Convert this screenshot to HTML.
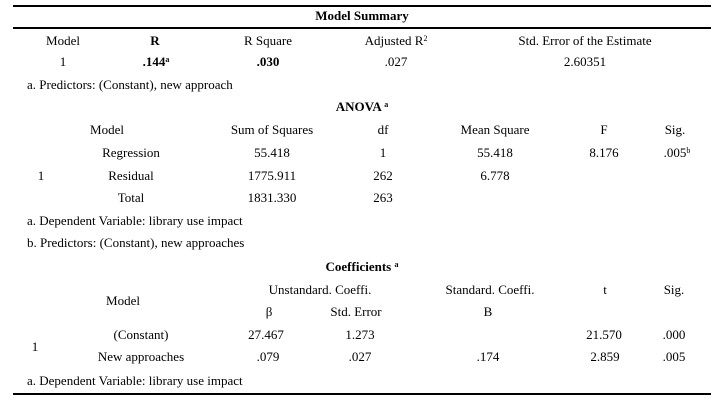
<!DOCTYPE html>
<html><head><meta charset="utf-8"><style>
html,body{margin:0;padding:0;background:#fff}
#t{position:relative;width:716px;height:400px;font-family:"Liberation Serif",serif;font-size:13px;color:#000;overflow:hidden}
.c{position:absolute;transform:translate(-50%,-50%);white-space:nowrap}
.l{position:absolute;transform:translateY(-50%);white-space:nowrap}
.b{font-weight:bold}
.hr{position:absolute;left:13px;width:698px;height:1.5px;background:#000}
sup{font-size:8px;vertical-align:4px;line-height:0}
</style></head><body>
<div id="t">
<div class="hr" style="top:5px"></div>
<div class="hr" style="top:27px"></div>
<div class="hr" style="top:393px"></div>

<div class="c b" style="left:362px;top:16px">Model Summary</div>
<div class="c" style="left:63px;top:41px">Model</div>
<div class="c b" style="left:155px;top:41px">R</div>
<div class="c" style="left:268px;top:41px">R Square</div>
<div class="c" style="left:396px;top:41px">Adjusted R<sup>2</sup></div>
<div class="c" style="left:585px;top:41px">Std. Error of the Estimate</div>
<div class="c" style="left:63px;top:62px">1</div>
<div class="c b" style="left:156px;top:62px">.144<sup>a</sup></div>
<div class="c b" style="left:268px;top:62px">.030</div>
<div class="c" style="left:396px;top:62px">.027</div>
<div class="c" style="left:585px;top:62px">2.60351</div>
<div class="l" style="left:27px;top:85px">a. Predictors: (Constant), new approach</div>

<div class="c b" style="left:362px;top:107px">ANOVA <sup>a</sup></div>
<div class="c" style="left:107px;top:130px">Model</div>
<div class="c" style="left:272px;top:130px">Sum of Squares</div>
<div class="c" style="left:383px;top:130px">df</div>
<div class="c" style="left:495px;top:130px">Mean Square</div>
<div class="c" style="left:604px;top:130px">F</div>
<div class="c" style="left:675px;top:130px">Sig.</div>
<div class="c" style="left:131px;top:153px">Regression</div>
<div class="c" style="left:272px;top:153px">55.418</div>
<div class="c" style="left:383px;top:153px">1</div>
<div class="c" style="left:495px;top:153px">55.418</div>
<div class="c" style="left:604px;top:153px">8.176</div>
<div class="c" style="left:677px;top:153px">.005<sup>b</sup></div>
<div class="c" style="left:41px;top:176px">1</div>
<div class="c" style="left:131px;top:176px">Residual</div>
<div class="c" style="left:272px;top:176px">1775.911</div>
<div class="c" style="left:383px;top:176px">262</div>
<div class="c" style="left:495px;top:176px">6.778</div>
<div class="c" style="left:131px;top:198px">Total</div>
<div class="c" style="left:272px;top:198px">1831.330</div>
<div class="c" style="left:383px;top:198px">263</div>
<div class="l" style="left:27px;top:221px">a. Dependent Variable: library use impact</div>
<div class="l" style="left:27px;top:243px">b. Predictors: (Constant), new approaches</div>

<div class="c b" style="left:362px;top:267px">Coefficients <sup>a</sup></div>
<div class="c" style="left:320px;top:290px">Unstandard. Coeffi.</div>
<div class="c" style="left:490px;top:290px">Standard. Coeffi.</div>
<div class="c" style="left:605px;top:290px">t</div>
<div class="c" style="left:674px;top:290px">Sig.</div>
<div class="c" style="left:123px;top:301px">Model</div>
<div class="c" style="left:269px;top:312px">β</div>
<div class="c" style="left:356px;top:312px">Std. Error</div>
<div class="c" style="left:488px;top:312px">B</div>
<div class="c" style="left:141px;top:335px">(Constant)</div>
<div class="c" style="left:266px;top:335px">27.467</div>
<div class="c" style="left:360px;top:335px">1.273</div>
<div class="c" style="left:604px;top:335px">21.570</div>
<div class="c" style="left:674px;top:335px">.000</div>
<div class="c" style="left:35px;top:347px">1</div>
<div class="c" style="left:141px;top:357px">New approaches</div>
<div class="c" style="left:268px;top:357px">.079</div>
<div class="c" style="left:360px;top:357px">.027</div>
<div class="c" style="left:488px;top:357px">.174</div>
<div class="c" style="left:605px;top:357px">2.859</div>
<div class="c" style="left:674px;top:357px">.005</div>
<div class="l" style="left:27px;top:381px">a. Dependent Variable: library use impact</div>
</div>
</body></html>
